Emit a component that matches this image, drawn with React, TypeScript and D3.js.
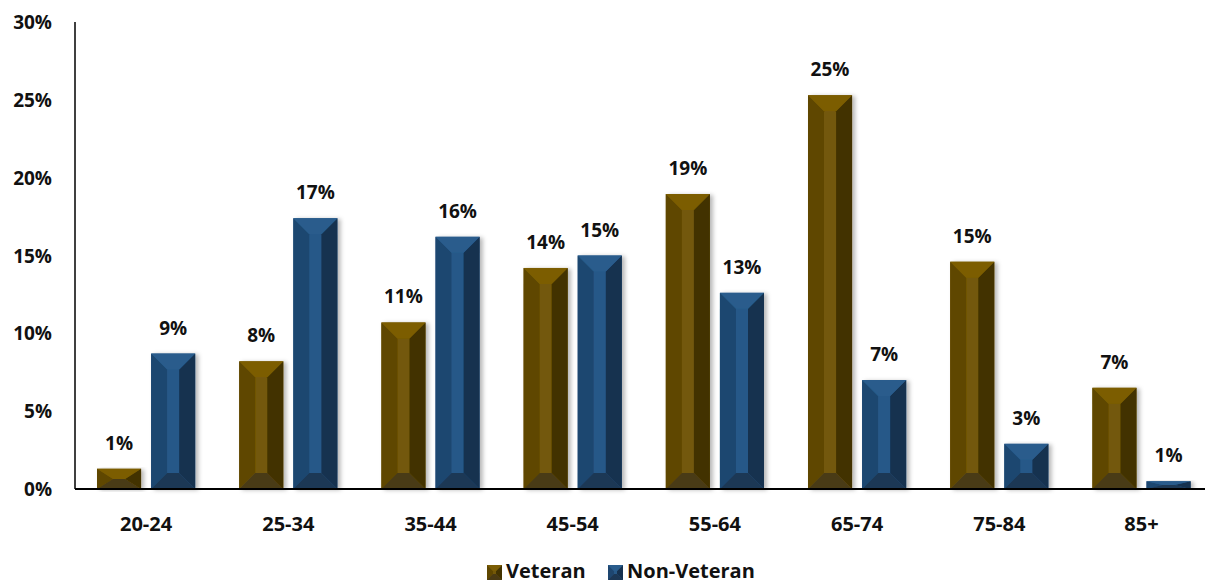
import React from "react";
import * as d3 from "d3";

// Age bands and share of each population (in percent)
const ageGroups = ["20-24", "25-34", "35-44", "45-54", "55-64", "65-74", "75-84", "85+"];
const seriesNames = ["Veteran", "Non-Veteran"];
const veteranValues = [1.3, 8.2, 10.7, 14.2, 18.95, 25.3, 14.6, 6.5];
const nonVeteranValues = [8.7, 17.4, 16.2, 15.0, 12.6, 7.0, 2.9, 0.5];
const yTicks = [0, 5, 10, 15, 20, 25, 30];

const W = 1205;
const H = 584;
const left = 75;
const baseY = 489;
const topY = 22;
const bandW = 142.2;

const FONT = "'Open Sans', 'Liberation Sans', Arial, sans-serif";

type Palette = { top: string; center: string; left: string; right: string; bottom: string };
const palettes: Palette[] = [
  { top: "#7b5d04", center: "#735808", left: "#5f4700", right: "#433300", bottom: "#4a3a13" },
  { top: "#295c8c", center: "#275988", left: "#1e4670", right: "#16314f", bottom: "#1c3755" },
];

function BevelBar({ x, y, w, h, p, bevel }: { x: number; y: number; w: number; h: number; p: Palette; bevel: number }) {
  const bx = Math.min(bevel, w / 2);
  const by = Math.min(bevel, h / 2);
  const pts = (a: number[][]) => a.map((q) => q.join(",")).join(" ");
  return (
    <g>
      <rect x={x} y={y} width={w} height={h} fill={p.center} />
      <polygon fill={p.left} points={pts([[x, y], [x + bx, y + by], [x + bx, y + h - by], [x, y + h]])} />
      <polygon fill={p.right} points={pts([[x + w, y], [x + w - bx, y + by], [x + w - bx, y + h - by], [x + w, y + h]])} />
      <polygon fill={p.top} points={pts([[x, y], [x + w, y], [x + w - bx, y + by], [x + bx, y + by]])} />
      <polygon fill={p.bottom} points={pts([[x, y + h], [x + w, y + h], [x + w - bx, y + h - by], [x + bx, y + h - by]])} />
    </g>
  );
}

export default function App() {
  const x0 = d3.scaleBand<string>().domain(ageGroups).range([left, left + bandW * ageGroups.length]).padding(0);
  const x1 = d3
    .scaleBand<string>()
    .domain(seriesNames)
    .range([22, bandW - 22])
    .paddingInner(10 / 54)
    .paddingOuter(0);
  const y = d3.scaleLinear().domain([0, 30]).range([baseY, topY]);
  const seriesValues = [veteranValues, nonVeteranValues];

  return (
    <svg
      width={W}
      height={H}
      style={{ position: "absolute", left: 0, top: 0, background: "#fff" }}
      fontFamily={FONT}
    >
      <defs>
        <filter id="barShadow" x="-20%" y="-5%" width="150%" height="115%">
          <feDropShadow dx="3" dy="1" stdDeviation="2" floodColor="#000" floodOpacity="0.28" />
        </filter>
      </defs>

      {/* y tick labels */}
      {yTicks.map((t) => (
        <text
          key={t}
          x={52}
          y={y(t)}
          textAnchor="end"
          dominantBaseline="central"
          fontSize={19}
          fontWeight={700}
          fill="#111"
        >
          {`${t}%`}
        </text>
      ))}

      {/* bars */}
      {ageGroups.map((g, i) => (
        <g key={g}>
          {seriesNames.map((s, si) => {
            const v = seriesValues[si][i];
            const bx = (x0(g) as number) + (x1(s) as number);
            const bw = x1.bandwidth();
            const by = y(v);
            const bh = baseY - by;
            return (
              <g key={s}>
                <g filter="url(#barShadow)">
                  <BevelBar x={bx} y={by} w={bw} h={bh} p={palettes[si]} bevel={16} />
                </g>
                <text
                  x={bx + bw / 2}
                  y={by - 19}
                  textAnchor="middle"
                  fontSize={19}
                  fontWeight={700}
                  fill="#111"
                >
                  {`${Math.round(v)}%`}
                </text>
              </g>
            );
          })}
          <text
            x={(x0(g) as number) + bandW / 2}
            y={523}
            textAnchor="middle"
            dominantBaseline="central"
            fontSize={20}
            fontWeight={700}
            fill="#111"
          >
            {g}
          </text>
        </g>
      ))}

      {/* axes */}
      <line x1={left} x2={left} y1={topY} y2={baseY} stroke="#000" strokeWidth={1.5} />
      <line x1={left} x2={W} y1={baseY} y2={baseY} stroke="#000" strokeWidth={2.2} />

      {/* legend */}
      {seriesNames.map((s, si) => {
        const lx = si === 0 ? 487 : 608;
        return (
          <g key={s}>
            <BevelBar x={lx} y={565} w={15} h={15} p={palettes[si]} bevel={6} />
            <text x={lx + 19} y={578} fontSize={20} fontWeight={700} fill="#111">
              {s}
            </text>
          </g>
        );
      })}
    </svg>
  );
}
